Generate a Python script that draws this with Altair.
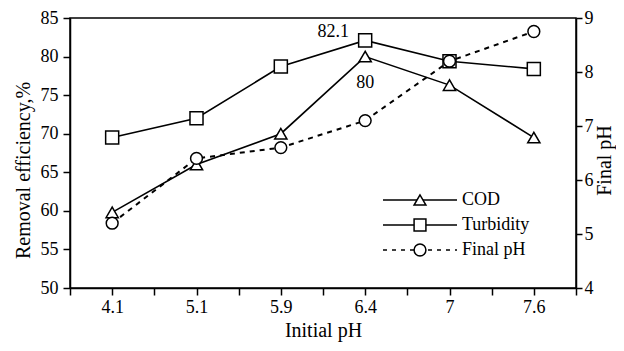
import altair as alt
import pandas as pd

categories = ["4.1", "5.1", "5.9", "6.4", "7", "7.6"]
cod = [59.8, 66.0, 70.0, 80.0, 76.3, 69.5]
turbidity = [69.5, 72.0, 78.7, 82.1, 79.4, 78.4]
final_ph = [5.2, 6.4, 6.6, 7.1, 8.2, 8.75]
legend_labels = ["COD", "Turbidity", "Final pH"]

idx = list(range(len(categories)))
df = pd.DataFrame({"i": idx, "cat": categories, "cod": cod, "turb": turbidity, "ph": final_ph})
k = categories.index("6.4")
ann_turb = pd.DataFrame({"i": [k], "v": [turbidity[k]], "t": [f"{turbidity[k]:g}"]})
ann_cod = pd.DataFrame({"i": [k], "v": [cod[k]], "t": [f"{cod[k]:g}"]})
leg = pd.DataFrame({"label": legend_labels})

FONT = "Liberation Serif, Times New Roman, Times, serif"
LBL = 18
TTL = 20

cat_js = "[" + ",".join(f"'{c}'" for c in categories) + "]"
xenc = alt.X(
    "i:Q",
    scale=alt.Scale(domain=[-0.5, len(categories) - 0.5], nice=False, zero=False),
    axis=alt.Axis(
        title="Initial pH",
        values=[j / 2 for j in range(-1, 2 * len(categories))],
        labelExpr=f"datum.value % 1 == 0 ? {cat_js}[datum.value] : ''",
        tickSize=7, labelPadding=3, titlePadding=4,
        labelFont=FONT, titleFont=FONT, labelFontSize=LBL, titleFontSize=TTL,
    ),
)

left_scale = alt.Scale(domain=[50, 85], nice=False, zero=False)
left_axis = alt.Axis(title="Removal efficiency,%", values=list(range(50, 90, 5)),
                     tickSize=7, labelPadding=5, titleX=-47, titleY=152,
                     titleAlign="center", titleBaseline="middle", titleAngle=270,
                     labelFont=FONT, titleFont=FONT, labelFontSize=LBL, titleFontSize=TTL)
right_scale = alt.Scale(domain=[4, 9], nice=False, zero=False)
right_axis = alt.Axis(title="Final pH", orient="right", values=list(range(4, 10)),
                      tickSize=6, labelPadding=2, titleX=28, titleY=142,
                      titleAlign="center", titleBaseline="middle", titleAngle=270,
                      labelFont=FONT, titleFont=FONT, labelFontSize=LBL, titleFontSize=TTL)

pt = dict(filled=True, fill="white", stroke="black", strokeWidth=1.5, opacity=1)

base = alt.Chart(df)
cod_line = base.mark_line(color="black", strokeWidth=1.6).encode(
    x=xenc, y=alt.Y("cod:Q", scale=left_scale, axis=left_axis))
cod_pt = base.mark_point(shape="triangle-up", size=150, **pt).encode(
    x=xenc, y=alt.Y("cod:Q", scale=left_scale, axis=left_axis))
turb_line = base.mark_line(color="black", strokeWidth=1.6).encode(
    x=xenc, y=alt.Y("turb:Q", scale=left_scale, axis=left_axis))
turb_pt = base.mark_point(shape="square", size=170, **pt).encode(
    x=xenc, y=alt.Y("turb:Q", scale=left_scale, axis=left_axis))
t1 = alt.Chart(ann_turb).mark_text(font=FONT, fontSize=LBL, dx=-32, dy=-8, color="black").encode(
    x=xenc, y=alt.Y("v:Q", scale=left_scale, axis=left_axis), text="t:N")
t2 = alt.Chart(ann_cod).mark_text(font=FONT, fontSize=LBL, dx=0, dy=26, color="black").encode(
    x=xenc, y=alt.Y("v:Q", scale=left_scale, axis=left_axis), text="t:N")
left = alt.layer(cod_line, turb_line, cod_pt, turb_pt, t1, t2)

ph_line = base.mark_line(color="black", strokeWidth=2, strokeDash=[5, 5]).encode(
    x=xenc, y=alt.Y("ph:Q", scale=right_scale, axis=right_axis))
ph_pt = base.mark_point(shape="circle", size=140, **pt).encode(
    x=xenc, y=alt.Y("ph:Q", scale=right_scale, axis=right_axis))
right = alt.layer(ph_line, ph_pt)

ly = alt.Y("label:N", scale=alt.Scale(type="point", domain=legend_labels, range=[182, 232], padding=0), axis=None)
lbase = alt.Chart(leg)
leg_rule = lbase.mark_rule(color="black", strokeWidth=1.6).encode(
    x=alt.value(313), x2=alt.value(387), y=ly,
    strokeDash=alt.StrokeDash("label:N", scale=alt.Scale(domain=legend_labels, range=[[1, 0], [1, 0], [4, 5]]), legend=None))
leg_pt = lbase.mark_point(size=140, **pt).encode(
    x=alt.value(350), y=ly,
    shape=alt.Shape("label:N", scale=alt.Scale(domain=legend_labels, range=["triangle-up", "square", "circle"]), legend=None))
leg_txt = lbase.mark_text(font=FONT, fontSize=LBL, align="left", baseline="middle", color="black").encode(
    x=alt.value(392), y=ly, text="label:N")
legend = alt.layer(leg_rule, leg_pt, leg_txt)

chart = alt.layer(left, right, legend).resolve_scale(
    y="independent", strokeDash="independent", shape="independent"
).properties(
    width=506, height=270,
    autosize=alt.AutoSizeParams(type="none"),
    padding={"left": 62, "top": 10, "right": 40, "bottom": 55},
).configure(font=FONT).configure_view(stroke="black", strokeWidth=1.5).configure_axis(
    grid=False, domainColor="black", domainWidth=1.5, tickColor="black", tickWidth=1.5,
    labelColor="black", titleColor="black", titleFontWeight="normal",
)

chart.save("out.html", embed_options={"renderer": "svg", "actions": False})
